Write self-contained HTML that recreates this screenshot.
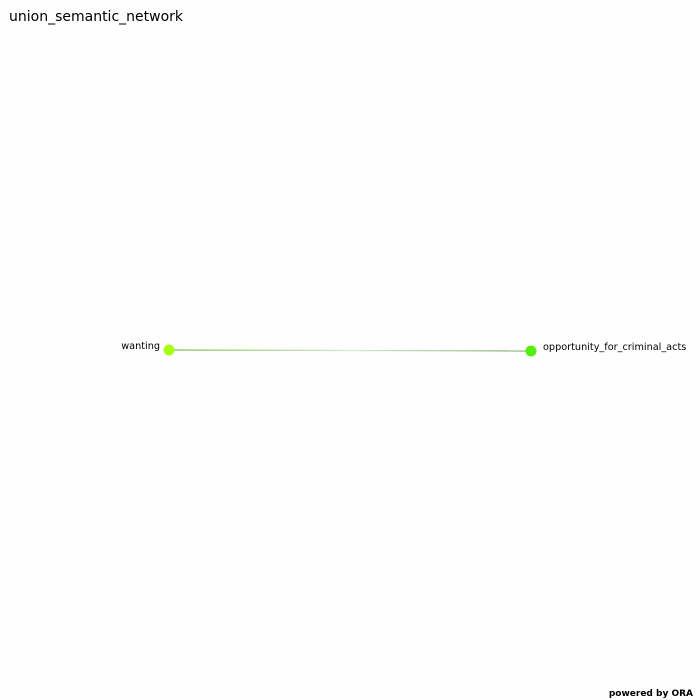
<!DOCTYPE html>
<html><head><meta charset="utf-8"><style>
html,body{margin:0;padding:0;background:#fefefe;width:700px;height:700px;overflow:hidden}
svg{display:block}
</style></head><body>
<svg id="chart" width="700" height="700">
<defs>
<linearGradient id="eg" x1="0" x2="1" y1="0" y2="0">
<stop offset="0" stop-color="#7cc04a"/><stop offset="0.5" stop-color="#d8e8d0"/><stop offset="1" stop-color="#7aa86a"/>
</linearGradient>
</defs>
<text x="9" y="21" font-family="'DejaVu Sans','Liberation Sans',sans-serif" font-size="14" fill="#000">union_semantic_network</text>
<text x="693" y="696" text-anchor="end" font-family="'DejaVu Sans','Liberation Sans',sans-serif" font-size="9" font-weight="bold" fill="#000">powered by ORA</text>
<g id="edges"></g><g id="nodes"></g>
</svg>
<script>
const nodeNames = ["wanting", "opportunity_for_criminal_acts"];
const nodeX = [169, 531];
const nodeY = [350, 351];
const nodeColors = ["#aaff11", "#55ee11"];
const labelSide = ["left", "right"];
const edges = [[0, 1]];

const NS = "http://www.w3.org/2000/svg";
const eg = document.getElementById("edges"), ng = document.getElementById("nodes");
edges.forEach(function(e){
  const l = document.createElementNS(NS, "rect");
  const x1 = nodeX[e[0]], x2 = nodeX[e[1]];
  const y1 = nodeY[e[0]], y2 = nodeY[e[1]];
  const len = Math.hypot(x2 - x1, y2 - y1);
  const ang = Math.atan2(y2 - y1, x2 - x1) * 180 / Math.PI;
  l.setAttribute("x", x1); l.setAttribute("y", y1 - 0.6);
  l.setAttribute("width", len); l.setAttribute("height", 1.2);
  l.setAttribute("fill", "url(#eg)");
  l.setAttribute("transform", "rotate(" + ang + " " + x1 + " " + y1 + ")");
  
  
  eg.appendChild(l);
});
nodeNames.forEach(function(n, i){
  const c = document.createElementNS(NS, "circle");
  c.setAttribute("cx", nodeX[i]); c.setAttribute("cy", nodeY[i]); c.setAttribute("r", 5.5);
  c.setAttribute("fill", nodeColors[i]);
  
  
  ng.appendChild(c);
  const t = document.createElementNS(NS, "text");
  const left = labelSide[i] === "left";
  t.setAttribute("x", left ? nodeX[i] - 9 : nodeX[i] + 12);
  t.setAttribute("y", nodeY[i] - 1);
  t.setAttribute("text-anchor", left ? "end" : "start");
  t.setAttribute("font-family", "'DejaVu Sans','Liberation Sans',sans-serif");
  t.setAttribute("font-size", "9.7");
  t.setAttribute("fill", "#000");
  t.textContent = n;
  
  
  ng.appendChild(t);
});
</script>
</body></html>
